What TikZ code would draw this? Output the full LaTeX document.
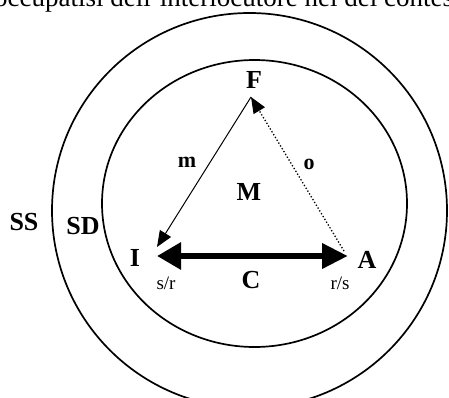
\documentclass[tikz,border=0pt]{standalone}
\usepackage{fontspec}
\setmainfont{Liberation Serif}
\usetikzlibrary{arrows.meta}
\begin{document}
\begin{tikzpicture}[x=1pt,y=-1pt,
  ring/.style={draw,line width=1.7pt},
  biglab/.style={font=\bfseries\fontsize{26}{26}\selectfont,inner sep=0pt},
  smalllab/.style={font=\bfseries\fontsize{22}{22}\selectfont,inner sep=0pt},
  sublab/.style={font=\fontsize{19}{19}\selectfont,inner sep=0pt},
  thinline/.style={line width=1pt},
  tri/.tip={Triangle[length=16pt,width=13pt]}]
\useasboundingbox (0,0) rectangle (449,398);
% clipped line of text at the top
\node[anchor=base west,inner sep=0pt,font=\fontsize{27}{27}\selectfont] (top) at (-6,7) {occupatisi dell'interlocutore nel del contesto};
% circles
\draw[ring] (249.5,210.5) circle [radius=197.5];
\draw[ring] (254.5,203.5) ellipse [x radius=152.5, y radius=143.5];
% points
\coordinate (Ftip) at (251,97);
\coordinate (Itip) at (157,247);
\coordinate (Aend) at (344,251);
\coordinate (Cl) at (157,256);
\coordinate (Cr) at (348,256);
% connectors
\draw[thinline,-{tri}] (Ftip) -- (Itip);
\draw[dotted,line width=1.3pt,-{tri}] (Aend) -- (Ftip);
\draw[line width=6.5pt,{Triangle[length=24pt,width=26pt]}-{Triangle[length=26pt,width=24pt]}] (Cl) -- (Cr);
% labels
\node[biglab] (F) at (254,80) {F};
\node[smalllab] (m) at (187,162) {m};
\node[smalllab] (o) at (309,164) {o};
\node[biglab] (M) at (249,192) {M};
\node[biglab] (SS) at (24,222) {SS};
\node[biglab] (SD) at (83,226) {SD};
\node[biglab] (I) at (135,258) {I};
\node[biglab] (A) at (367,260) {A};
\node[biglab] (C) at (251,280) {C};
\node[sublab] (sr) at (166,283) {s/r};
\node[sublab] (rs) at (340,283) {r/s};
\end{tikzpicture}
\end{document}
